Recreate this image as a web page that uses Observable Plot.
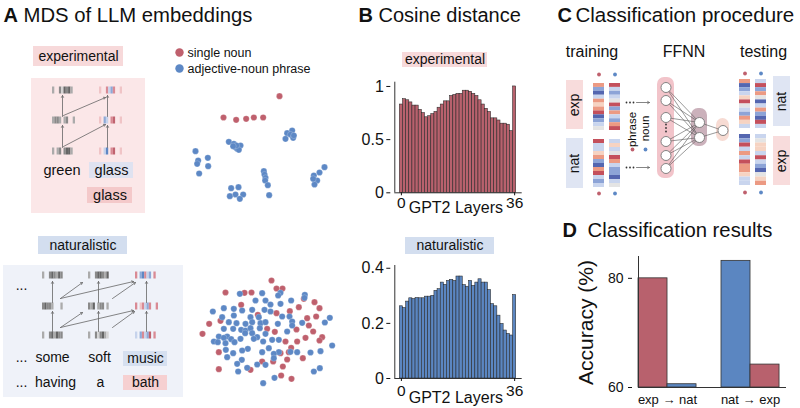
<!DOCTYPE html>
<html>
<head>
<meta charset="utf-8">
<script src="https://cdn.jsdelivr.net/npm/d3@7"></script>
<script src="https://cdn.jsdelivr.net/npm/@observablehq/plot@0.6"></script>
<style>
  body { margin: 0; background: #fff; }
  #wrap { position: relative; width: 800px; height: 408px; overflow: hidden; background: #fff;
          font-family: 'Liberation Sans', Arial, Helvetica, sans-serif; }
  #wrap svg { position: absolute; }
</style>
</head>
<body>
<div id="wrap"></div>
<script>
// ================= DATA =================
// Panel A: MDS coordinates (arbitrary MDS units)
const mdsLegend = ["single noun", "adjective-noun phrase"];
const mdsExpNoun = [[327,47],[159,111],[197,118],[227,115],[250,111],[278,111]];
const mdsExpPhrase = [[175,184],[190,190],[195,200],[200,205],[210,195],[205,208],[198,195],[188,197],
  [365,150],[350,158],[360,162],[345,175],[368,172],[370,165],
  [75,212],[83,240],[80,250],[112,232],[113,257],[86,279],
  [182,323],[204,320],[195,342],[178,347],[218,342],[208,355],
  [280,272],[282,282],[285,292],[284,300],[292,314],[296,344],
  [462,260],[447,276],[430,285],[440,300],[432,312],[428,295]];
const mdsNatNoun = [[303,60],[318,84],[336,84],[165,96],[222,97],[243,96],[212,133],[262,163],[150,181],
  [116,190],[96,220],[290,205],[313,214],[318,158],[358,152],[385,140],[400,115],[432,125],[447,143],
  [410,173],[437,168],[415,195],[378,207],[428,213],[455,230],[447,240],[405,232],[380,243],[345,243],
  [362,262],[355,275],[330,278],[397,293],[350,297],[308,303],[275,303],[337,318],[332,345],[363,355],
  [145,275],[145,326],[240,328]];
const mdsNatPhrase = [[208,100],[275,98],[330,97],[323,105],[403,103],[402,112],[255,120],[285,120],
  [362,120],[330,130],[300,132],[160,143],[190,145],[215,150],[245,148],[282,148],[127,153],[300,153],
  [190,165],[155,170],[240,170],[265,170],[335,168],[357,168],[175,185],[198,188],[225,190],[245,185],
  [270,188],[285,185],[322,190],[365,183],[395,187],[478,172],[463,186],[365,195],[160,205],[188,205],
  [212,208],[225,210],[240,203],[268,203],[245,218],[224,218],[285,220],[350,213],[145,228],[170,228],
  [260,230],[160,232],[182,236],[210,235],[250,235],[305,238],[325,238],[130,243],[142,245],[165,248],
  [192,245],[278,243],[485,255],[295,263],[232,265],[166,268],[215,270],[275,275],[325,275],[360,274],
  [380,275],[420,276],[450,272],[188,278],[310,280],[170,290],[310,293],[214,298],[200,310],[260,312],
  [285,313],[230,322],[203,333],[448,323],[430,333],[312,352],[278,368]];

// Panel B: cosine distance per GPT2 layer
const gptLayers = d3.range(0, 37);
const cosExperimental = [0.83,0.88,0.87,0.85,0.82,0.82,0.78,0.75,0.71,0.72,0.74,0.76,0.80,0.83,0.86,0.86,
  0.91,0.92,0.93,0.93,0.96,0.96,0.95,0.93,0.91,0.87,0.83,0.79,0.76,0.70,0.70,0.68,0.65,0.65,0.64,0.58,1.0];
const cosNaturalistic = [0.262,0.256,0.279,0.291,0.288,0.292,0.291,0.291,0.297,0.297,0.300,0.318,0.324,
  0.348,0.340,0.354,0.358,0.354,0.370,0.370,0.339,0.333,0.354,0.336,0.348,0.360,0.348,0.348,0.321,0.270,
  0.262,0.228,0.198,0.174,0.162,0.156,0.303];
const cosTicksExp = [0, 0.5, 1];
const cosTicksNat = [0, 0.2, 0.4];

// Panel D: classification accuracy (%)
const accCategories = ["exp → nat", "nat → exp"];
const accNoun = [80.0, 64.2];    // red bars
const accPhrase = [60.6, 83.2];  // blue bars
const accOrder = [["noun", "phrase"], ["phrase", "noun"]];
const accTicks = [60, 80];

// Schematic vector patterns (stripe intensities)
const expGrayRows = [[2,0,0,3,1,4,3,4,2,0],[2,3,3,2,0,2,3,0,0,2],[2,0,2,3,0,3,4,4,2,0]];
const expColorRows = [[1,0,0,2,-1,-2,2,0,0,1],[1,0,-2,-1,0,2,3,0,0,1],[1,0,-1,-3,0,2,3,0,0,1]];
const natCol1 = [[2,0,0,3,4,3,2,4,3,0],[3,4,3,3,2,0,0,0,2,0],[2,0,0,3,4,2,4,3,3,0]];
const natCol2 = [[2,0,0,3,4,4,3,2,4,0],[3,2,4,0,2,3,3,0,2,0],[2,0,0,3,1,3,4,2,1,0]];
const natCol3 = [[2,0,-2,-3,2,-1,-2,0,2,0],[2,0,1,2,-1,-2,2,0,0,2],[-1,0,-2,2,-1,-2,3,0,2,0]];
const trainTop = [[2,-2,-3,-1,2,1,2,3,-3,-2,-1,0],[3,-1,-2,-1,0,3,-2,2,-1,-2,2,3]];
const trainBot = [[3,-1,-1,1,2,-2,-3,2,3,-1,-2,-1],[-1,1,-1,0,3,2,-1,-2,-2,-3,-1,0]];
const testTop = [[2,-3,-2,-1,1,3,0,-1,-2,2,1,-1],[-1,3,-2,2,0,-3,-1,2,-2,-3,3,-1]];
const testBot = [[-3,-2,3,-1,2,-1,3,2,2,1,-1,-1],[-1,0,1,1,-1,3,-1,-2,-3,0,1,2]];

// ================= STYLE =================
const FONT = "'Liberation Sans', Arial, Helvetica, sans-serif";
const RED = "#bf606d", BLUE = "#5d88c5";
const BAR_RED = "#b8616d", BAR_BLUE = "#5b86c1";
const grayPal = {1:"#d4d4d4", 2:"#ababab", 3:"#8a8a8a", 4:"#666666"};
const colPal = {1:"#f0c4c6", 2:"#d98a94", 3:"#c0636f", "-1":"#c6d3ec", "-2":"#8eaad8", "-3":"#5f87c4"};
const rdbu = {3:"#c4505c", 2:"#ec9a83", 1:"#f6d3c2", 0:"#e4e4e4", "-1":"#c9d5ee", "-2":"#8da4d7", "-3":"#5466b0"};

// ================= SCHEMATIC LAYOUT =================
const rects = [], rrects = [], arrows = [], links = [], centered = [], starts = [], bold = [], titles = [];
const smallDots = [], nodes = [], legendDots = [];
function box(x1, y1, x2, y2, fill) { rects.push({x1, x2, y1, y2, fill}); }
function vec(x0, yc, pattern, pal) {
  const w = 23, h = 7, sw = w / pattern.length;
  pattern.forEach((p, k) => { if (p !== 0) rects.push({x1: x0 + k*sw, x2: x0 + (k+1)*sw, y1: yc - h/2, y2: yc + h/2, fill: pal[p]}); });
}
function stripes(x1, x2, y1, y2, pattern) {
  const h = (y2 - y1) / pattern.length;
  pattern.forEach((p, k) => rects.push({x1, x2, y1: y1 + k*h, y2: y1 + (k+1)*h, fill: rdbu[p]}));
}
function T(x, y, t, s, r = 0) { centered.push({x, y, t, s, r}); }

// titles
[[3,21,"A"],[358,21,"B"],[557,21,"C"],[562,236,"D"]].forEach(([x,y,t]) => bold.push({x,y,t}));
[[23,21,"MDS of LLM embeddings",20.3],[378,21,"Cosine distance",20],[575,21,"Classification procedure",20.5],[587,236,"Classification results",20.3]]
  .forEach(([x,y,t,s]) => titles.push({x,y,t,s}));

// ---- Panel A, experimental ----
box(31, 78, 145, 213, "#fbe7e8");
box(33, 46, 123, 66, "#f7d9da"); T(78, 56, "experimental", 14);
[90, 120, 151].forEach((yc, i) => { vec(52, yc, expGrayRows[i], grayPal); vec(99, yc, expColorRows[i], colPal); });
arrows.push({x1:62,y1:147,x2:62,y2:125},{x1:62,y1:116,x2:62,y2:95},{x1:107,y1:147,x2:107,y2:125},{x1:107,y1:116,x2:107,y2:95},
            {x1:63,y1:146,x2:105,y2:124},{x1:63,y1:115,x2:105,y2:97});
box(89, 162, 133, 178, "#dfe2f0"); box(87, 187, 132, 203, "#f4c9ca");
T(61.5, 170, "green", 14.5); T(111, 170, "glass", 14.5); T(109.5, 195, "glass", 14.5);

// ---- Panel A, naturalistic ----
box(3, 265, 183, 397, "#eff2f9");
box(38, 236, 127, 254, "#d3deef"); T(82.5, 245, "naturalistic", 14);
[275, 306, 335].forEach((yc, i) => { vec(42, yc, natCol1[i], grayPal); vec(88, yc, natCol2[i], grayPal); vec(135, yc, natCol3[i], colPal); });
[52, 98, 146].forEach(x => arrows.push({x1:x,y1:331,x2:x,y2:311},{x1:x,y1:302,x2:x,y2:281}));
arrows.push({x1:60,y1:327,x2:82,y2:312},{x1:60,y1:327,x2:133,y2:310},{x1:112,y1:327,x2:134,y2:311},
            {x1:60,y1:298,x2:82,y2:282},{x1:60,y1:298,x2:133,y2:281},{x1:112,y1:298,x2:135,y2:282});
box(123, 351, 167, 366, "#d6e0f0"); box(123, 375, 167, 390, "#f6d0d1");
T(21, 285, "...", 14);
T(21, 357, "...", 14); T(52, 357, "some", 14); T(99, 357, "soft", 14); T(145, 358.5, "music", 14);
T(21, 382, "...", 14); T(55, 382, "having", 14); T(100, 382, "a", 14); T(145, 382.5, "bath", 14);

// legend for MDS
legendDots.push({x:179, y:52, c:RED}, {x:179, y:68, c:BLUE});
starts.push({x:187, y:52, t:mdsLegend[0]}, {x:187, y:68, t:mdsLegend[1]});

// ---- Panel B labels ----
box(402, 52, 487, 67, "#f7d9da"); T(444.5, 59.5, "experimental", 14);
box(405, 237, 494, 254, "#d3deef"); T(449.5, 245.5, "naturalistic", 14);

// ---- Panel C ----
T(591.5, 51, "training", 16); T(683.5, 51, "FFNN", 16); T(763, 51, "testing", 16);
box(566, 80, 583, 129, "#f8dcdc"); T(574.5, 104.5, "exp", 14, -90);
box(566, 138, 583, 188, "#dfe5f3"); T(574.5, 163, "nat", 14, -90);
box(773, 76, 790, 126, "#dfe5f3"); T(781.5, 101, "nat", 14, -90);
box(773, 136, 790, 185, "#f8dcdc"); T(781.5, 160.5, "exp", 14, -90);
stripes(593, 604, 83, 130, trainTop[0]); stripes(609, 620, 83, 130, trainTop[1]);
stripes(593, 604, 139, 187, trainBot[0]); stripes(609, 620, 139, 187, trainBot[1]);
stripes(739, 750, 79, 128, testTop[0]); stripes(755, 766, 79, 128, testTop[1]);
stripes(739, 750, 134, 185, testBot[0]); stripes(755, 766, 134, 185, testBot[1]);
[[598.5,74,RED],[614.5,74,BLUE],[598.5,193,RED],[614.5,193,BLUE],[744.5,73,RED],[760.5,73,BLUE],[744.5,192,RED],[760.5,192,BLUE],
 [632,149,RED],[645,149,BLUE]].forEach(([x,y,c]) => smallDots.push({x,y,c}));
T(632, 129, "phrase", 11.5, -90); T(645, 128, "noun", 11.5, -90);
const tinyDots = [];
[102, 167].forEach(y => { [626, 629.5, 633].forEach(x => tinyDots.push({x, y})); arrows.push({x1:636, y1:y, x2:649, y2:y}); });
rrects.push({x1:657, x2:674, y1:77, y2:178, fill:"#f2c4ca"}, {x1:691, x2:707, y1:108, y2:146, fill:"#cbb1bb"}, {x1:716, x2:729, y1:118, y2:141, fill:"#f7dbd3"});
const inY = [87, 100, 117, 141, 155, 168], hidY = [122, 137];
inY.forEach(y1 => hidY.forEach(y2 => links.push({x1:665.5, y1, x2:699, y2})));
hidY.forEach(y1 => links.push({x1:699, y1, x2:722.5, y2:130}));
inY.forEach(y => nodes.push({x:665.5, y})); hidY.forEach(y => nodes.push({x:699, y})); nodes.push({x:722.5, y:130});
[124, 127.5, 131].forEach(y => tinyDots.push({x:665.5, y}));

// ---- Panel D ----
T(586, 322, "Accuracy (%)", 21, -90);

// ================= MAIN (schematics + titles) =================
const wrap = document.getElementById("wrap");
const main = Plot.plot({
  width: 800, height: 408, margin: 0,
  x: {domain: [0, 800], range: [0, 800], axis: null},
  y: {domain: [0, 408], range: [0, 408], axis: null},
  color: {type: "identity"},
  style: {fontFamily: FONT, background: "transparent", left: "0px", top: "0px"},
  marks: [
    Plot.rect(rects, {x1: "x1", x2: "x2", y1: "y1", y2: "y2", fill: "fill"}),
    Plot.rect(rrects, {x1: "x1", x2: "x2", y1: "y1", y2: "y2", fill: "fill", rx: 7}),
    Plot.arrow(arrows, {x1: "x1", y1: "y1", x2: "x2", y2: "y2", stroke: "#666", strokeWidth: 0.8, headLength: 4}),
    Plot.link(links, {x1: "x1", y1: "y1", x2: "x2", y2: "y2", stroke: "#555", strokeWidth: 0.6}),
    Plot.dot(nodes, {x: "x", y: "y", r: 5, fill: "white", stroke: "#777", strokeWidth: 0.9}),
    Plot.dot(tinyDots, {x: "x", y: "y", r: 0.9, fill: "#333"}),
    Plot.dot(smallDots, {x: "x", y: "y", r: 1.9, fill: "c"}),
    Plot.dot(legendDots, {x: "x", y: "y", r: 4.2, fill: "c"}),
    Plot.text(bold, {x: "x", y: "y", text: "t", fontSize: 20, fontWeight: "bold", textAnchor: "start", lineAnchor: "bottom", fill: "#111"}),
    Plot.text(titles, {x: "x", y: "y", text: "t", fontSize: "s", textAnchor: "start", lineAnchor: "bottom", fill: "#111"}),
    Plot.text(centered, {x: "x", y: "y", text: "t", fontSize: "s", rotate: "r", textAnchor: "middle", lineAnchor: "middle", fill: "#111"}),
    Plot.text(starts, {x: "x", y: "y", text: "t", fontSize: 12.5, textAnchor: "start", lineAnchor: "middle", fill: "#111"})
  ]
});
wrap.appendChild(main);

function place(svg, left, top) { svg.style.left = left + "px"; svg.style.top = top + "px"; wrap.appendChild(svg); }

// ================= MDS scatter plots =================
function mdsPlot(noun, phrase, w, h, dw, dh) {
  return Plot.plot({
    width: w, height: h, margin: 0,
    x: {domain: [0, dw], range: [0, w], axis: null},
    y: {domain: [0, dh], range: [0, h], axis: null},
    style: {background: "transparent", overflow: "visible"},
    marks: [
      Plot.dot(noun, {x: d => d[0], y: d => d[1], r: 3.1, fill: RED, stroke: "#fff", strokeOpacity: 0.4, strokeWidth: 0.5}),
      Plot.dot(phrase, {x: d => d[0], y: d => d[1], r: 3.1, fill: BLUE, stroke: "#fff", strokeOpacity: 0.4, strokeWidth: 0.5})
    ]
  });
}
place(mdsPlot(mdsExpNoun, mdsExpPhrase, 180, 130, 540, 390), 170, 80);
place(mdsPlot(mdsNatNoun, mdsNatPhrase, 180, 140, 540, 420), 170, 260);

// ================= Cosine distance bars =================
function cosPlot(vals, color, ymax, ticks, o) {
  const data = gptLayers.map((l, i) => ({layer: l, v: vals[i]}));
  return Plot.plot({
    width: 200, height: o.h, marginLeft: 64.3, marginRight: 8.3, marginTop: o.mt, marginBottom: o.mb,
    x: {domain: [-2.1, 38.4]}, y: {domain: [0, ymax]},
    style: {fontFamily: FONT, background: "transparent", overflow: "visible", color: "#111"},
    marks: [
      Plot.rect(data, {x1: d => d.layer - 0.5, x2: d => d.layer + 0.5, y1: 0, y2: "v", fill: color, stroke: "#262626", strokeWidth: 0.55}),
      Plot.ruleX([-2.1], {stroke: "#333"}),
      Plot.ruleY([0], {stroke: "#333"}),
      Plot.axisY({ticks, tickFormat: d => String(d), tickSize: 4, dx: -4, tickPadding: 3, fontSize: 16, label: null}),
      Plot.axisX({ticks: [0, 36], tickFormat: d => String(d), tickSize: 3, tickPadding: o.xpad, fontSize: 15.5, label: null}),
      Plot.text(["GPT2 Layers"], {x: 17.3, frameAnchor: "bottom", dy: o.ldy, lineAnchor: "bottom", fontSize: 16})
    ]
  });
}
place(cosPlot(cosExperimental, BAR_RED, 1.04, cosTicksExp, {h: 150, mt: 11.7, mb: 27.7, xpad: 1, ldy: 20}), 330, 70);
place(cosPlot(cosNaturalistic, BAR_BLUE, 0.41, cosTicksNat, {h: 158, mt: 15, mb: 30, xpad: 3, ldy: 24}), 330, 250);

// ================= Classification results =================
const groupStart = [0, 2.86];
const accBars = [];
accCategories.forEach((c, g) => accOrder[g].forEach((s, k) => accBars.push({
  x1: groupStart[g] + k, x2: groupStart[g] + k + 1, v: s === "noun" ? accNoun[g] : accPhrase[g], fill: s === "noun" ? BAR_RED : BAR_BLUE
})));
const acc = Plot.plot({
  width: 260, height: 158, marginLeft: 98, marginRight: 14, marginTop: 6, marginBottom: 21,
  x: {domain: [0, 5.1]}, y: {domain: [60, 84]},
  color: {type: "identity"},
  style: {fontFamily: FONT, background: "transparent", overflow: "visible", color: "#111"},
  marks: [
    Plot.rect(accBars, {x1: "x1", x2: "x2", y1: 60, y2: "v", fill: "fill", stroke: "#333", strokeWidth: 0.8}),
    Plot.ruleX([0], {stroke: "#333"}),
    Plot.ruleY([60], {stroke: "#333"}),
    Plot.axisY({ticks: accTicks, tickFormat: d => String(d), tickSize: 4, dx: -6, tickPadding: 5, fontSize: 14, label: null}),
    Plot.axisX({ticks: [], label: null}),
    Plot.text(accCategories, {x: (d, i) => groupStart[i] + 1, frameAnchor: "bottom", dy: 16, lineAnchor: "bottom", fontSize: 13})
  ]
});
place(acc, 540, 250);
</script>
</body>
</html>
